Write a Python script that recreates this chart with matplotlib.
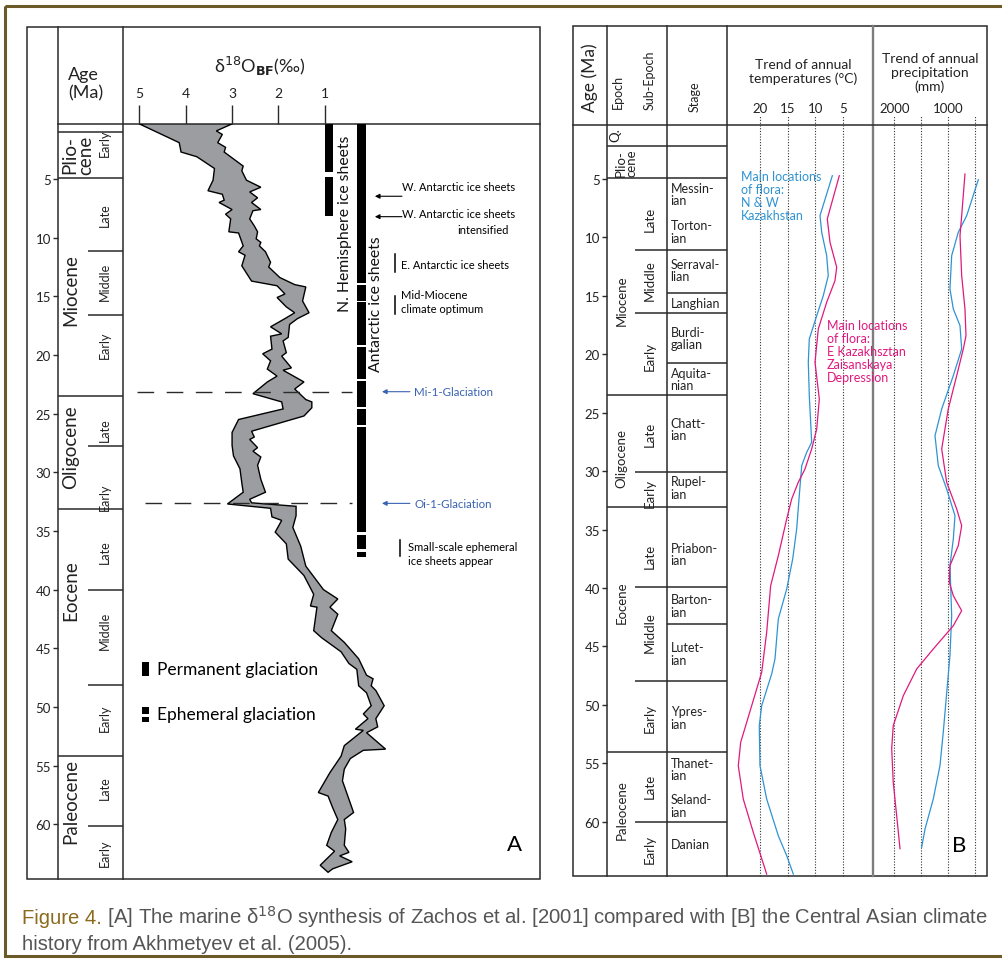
import numpy as np
import matplotlib
matplotlib.use("Agg")
import matplotlib.pyplot as plt
from matplotlib.patches import Rectangle

plt.rcParams['font.family'] = ['Lato', 'DejaVu Sans']
plt.rcParams['mathtext.fontset'] = 'dejavusans'

W, H = 1003, 962

# ---------------- panel A : benthic d18O band (Zachos et al. 2001) ----------------
# heavy (left) edge of the band
a_left_age = [0.3, 1.9, 2.7, 3.1, 4.1, 5.1, 6.0, 6.3, 6.8, 7.0, 7.6, 8.0, 8.4, 9.5, 9.6,
              10.7, 11.2, 11.5, 12.4, 13.7, 14.1, 14.8, 15.1, 15.9, 16.4, 16.9, 17.6, 18.2,
              18.4, 19.5, 19.9, 20.5, 21.2, 21.8, 22.3, 23.3, 24.0, 24.6, 25.5, 26.6, 27.7,
              28.6, 29.7, 30.9, 31.7, 32.7, 33.07, 33.8, 34.1, 35.1, 36.1, 37.4, 38.8, 40.4,
              41.4, 41.5, 43.5, 44.1, 45.3, 46.3, 46.8, 48.2, 48.8, 49.9, 50.6, 51.0, 51.9,
              52.0, 53.3, 54.2, 55.6, 57.3, 57.6, 58.6, 59.6, 60.7, 61.8, 62.3, 63.5, 64.1]
a_left_d18o = [5.0, 4.14, 4.10, 3.76, 3.38, 3.41, 3.52, 3.21, 3.17, 3.28, 3.0, 3.14, 3.03, 3.07, 2.86,
               2.76, 2.86, 2.72, 2.79, 2.58, 2.03, 1.86, 2.03, 1.83, 1.65, 1.86, 2.17, 1.93,
               2.17, 2.14, 2.34, 2.17, 2.24, 2.03, 2.24, 2.55, 1.93, 1.90, 2.86, 3.0, 3.0,
               2.97, 2.83, 2.79, 2.76, 3.10, 2.17, 2.14, 1.93, 2.07, 1.83, 1.79, 1.45, 1.24,
               1.31, 1.17, 1.24, 1.07, 0.65, 0.48, 0.31, 0.27, 0.10, 0.0, 0.17, 0.07, 0.34,
               0.17, 0.58, 0.65, 0.89, 1.14, 0.93, 0.83, 0.72, 0.86, 0.96, 0.79, 1.10, 0.93]
# light (right) edge of the band
a_right_age = [0.3, 0.9, 1.2, 1.9, 2.3, 2.7, 3.9, 4.3, 5.1, 5.7, 6.1, 6.6, 7.0, 7.6, 7.7, 8.4,
               9.0, 9.5, 10.1, 10.4, 10.7, 11.2, 12.1, 12.5, 13.4, 14.0, 14.2, 15.4, 16.4, 16.9,
               17.4, 18.5, 18.8, 19.8, 20.1, 21.1, 21.3, 22.3, 22.9, 23.8, 24.0, 24.5, 25.2,
               26.5, 27.0, 27.2, 27.9, 28.2, 28.7, 29.4, 30.6, 31.7, 32.3, 32.6, 32.9, 33.7,
               34.7, 36.3, 38.0, 40.0, 40.8, 41.5, 42.1, 43.5, 44.5, 45.9, 47.3, 47.6, 48.2,
               48.6, 49.9, 51.0, 51.7, 52.2, 53.6, 53.7, 54.4, 55.3, 56.3, 59.0, 59.6, 60.4,
               61.8, 62.4, 62.7, 63.2, 63.8, 64.1]
a_right_d18o = [3.0, 3.34, 3.21, 3.31, 3.14, 3.17, 2.76, 2.79, 2.69, 2.38, 2.62, 2.45, 2.58, 2.38, 2.55, 2.62,
                2.52, 2.45, 2.48, 2.38, 2.41, 2.28, 2.17, 2.21, 1.97, 1.65, 1.41, 1.48, 1.34, 1.59,
                1.76, 1.79, 1.90, 1.83, 1.93, 1.72, 1.90, 1.45, 1.65, 1.41, 1.28, 1.28, 1.45,
                2.58, 2.52, 2.62, 2.45, 2.55, 2.38, 2.45, 2.38, 2.28, 2.62, 2.58, 1.62, 1.62,
                1.69, 1.52, 1.41, 1.03, 0.72, 0.89, 0.72, 0.86, 0.58, 0.27, 0.10, -0.04, 0.0,
                -0.10, -0.28, -0.10, -0.14, 0.10, -0.31, 0.17, 0.45, 0.58, 0.62, 0.38, 0.58, 0.55,
                0.58, 0.48, 0.68, 0.41, 0.83, 0.93]

d18o_ticks = [5, 4, 3, 2, 1]
age_ticks = list(range(5, 65, 5))

epochA_lines = [0.99, 4.91, 23.5, 33.1, 54.2]
subA_lines = [11.13, 16.59, 27.76, 40.03, 48.13, 60.15]
epochA_names = ['Plio-\ncene', 'Miocene', 'Oligocene', 'Eocene', 'Paleocene']
epochA_mid = [2.9, 14.4, 27.8, 40.0, 58.0]
subA_names = ['Early', 'Late', 'Middle', 'Early', 'Late', 'Early', 'Late', 'Middle', 'Early', 'Late', 'Early']
subA_mid = [1.85, 8.0, 13.7, 19.1, 26.3, 32.0, 36.7, 43.4, 50.9, 56.8, 62.4]

nh_ice = [(0.31, 4.37), (4.80, 8.12)]
ant_ice = [(0.31, 13.86), (14.01, 15.37), (15.51, 19.15), (19.34, 22.05), (22.24, 24.46),
           (24.60, 25.94), (26.16, 35.12), (35.32, 36.54), (36.79, 37.25)]
glaciations = ['Mi-1-Glaciation', 'Oi-1-Glaciation']
glac_age = [23.13, 32.65]

# ---------------- panel B : Central Asian climate (Akhmetyev et al. 2005) ----------------
epochB_lines = [2.15, 4.94, 23.48, 33.03, 54.01]
subB_lines = [11.07, 16.49, 30.05, 39.94, 47.93, 60.0]
stageB_lines = [14.78, 20.77, 43.08]
epochB_names = ['Q.', 'Plio-\ncene', 'Miocene', 'Oligocene', 'Eocene', 'Paleocene']
epochB_mid = [1.15, 3.6, 15.3, 28.8, 41.2, 58.9]
subB_names = ['Late', 'Middle', 'Early', 'Late', 'Early', 'Late', 'Middle', 'Early', 'Late', 'Early']
subB_mid = [8.4, 13.6, 20.1, 26.8, 31.8, 37.2, 43.7, 51.1, 56.9, 62.3]
stages = ['Messin-\nian', 'Torton-\nian', 'Serraval-\nlian', 'Langhian', 'Burdi-\ngalian',
          'Aquita-\nnian', 'Chatt-\nian', 'Rupel-\nian', 'Priabon-\nian', 'Barton-\nian',
          'Lutet-\nian', 'Ypres-\nian', 'Thanet-\nian', 'Seland-\nian', 'Danian']
stage_mid = [6.3, 9.5, 12.8, 15.6, 18.6, 22.1, 26.4, 31.4, 37.1, 41.5, 45.6, 51.1, 55.5, 58.6, 61.9]

temp_ticks = [20, 15, 10, 5]
precip_ticks = [2000, 1500, 1000, 500]
precip_labels = ['2000', '', '1000', '']

# blue: N & W Kazakhstan, magenta: E Kazakhstan / Zaisan depression
temp_nw_age = [4.72, 8.14, 9.56, 11.56, 13.27, 14.98, 16.70, 18.69, 20.68, 23.54, 27.53, 28.39, 29.53,
               32.38, 34.95, 37.52, 40.08, 42.65, 46.07, 47.36, 50.07, 51.78, 55.21, 58.06, 61.2, 62.91, 64.48]
temp_nw = [6.93, 9.16, 8.85, 7.95, 7.66, 8.56, 9.75, 11.09, 11.27, 11.09, 10.66, 11.56, 12.46,
           12.95, 13.37, 14.09, 15.17, 16.69, 17.29, 17.89, 19.69, 20.13, 20.0, 18.79, 16.69, 15.17, 13.98]
temp_e_age = [4.72, 8.42, 10.42, 12.55, 13.7, 15.55, 17.83, 20.68, 23.83, 26.4, 28.1, 29.82, 30.95,
              32.38, 34.09, 37.24, 39.8, 43.79, 47.21, 50.07, 53.21, 55.21, 58.06, 60.91, 64.48]
temp_e = [5.67, 7.84, 7.35, 6.14, 6.45, 7.95, 9.46, 10.06, 9.28, 9.75, 10.66, 11.87, 13.08,
          14.27, 15.17, 16.69, 18.07, 18.79, 19.69, 21.5, 23.49, 23.92, 23.02, 21.21, 18.79]
prec_nw_age = [5.06, 8.14, 9.56, 11.56, 14.41, 16.12, 17.55, 19.55, 21.83, 24.68, 26.97, 29.53, 31.53,
               33.81, 35.81, 38.09, 42.37, 45.79, 52.35, 55.21, 58.06, 60.63, 62.19]
prec_nw = [444, 659, 815, 937, 969, 907, 783, 752, 907, 1122, 1246, 1185, 1030,
           876, 907, 969, 937, 969, 1093, 1154, 1278, 1431, 1493]
prec_e_age = [4.57, 8.14, 9.85, 13.27, 16.12, 18.41, 19.55, 21.83, 24.68, 28.1, 30.95, 33.24, 34.67,
              36.38, 38.09, 39.51, 40.66, 41.94, 43.23, 45.22, 46.93, 49.22, 51.78, 53.75, 56.63, 59.48, 62.31]
prec_e = [691, 752, 783, 752, 691, 672, 722, 844, 1000, 1122, 1030, 844, 752,
          815, 969, 981, 907, 752, 907, 1278, 1585, 1833, 2019, 2048, 2019, 1956, 1894]

LC = '#2a2a2a'
BLUE = '#2f93d3'
MAG = '#e0197d'
GLAC = '#3a62b3'

fig = plt.figure(figsize=(W / 100, H / 100), dpi=100)


def px_axes(x0, y0, x1, y1):
    ax = fig.add_axes([x0 / W, 1 - y1 / H, (x1 - x0) / W, (y1 - y0) / H])
    ax.set_facecolor('none')
    for s in ax.spines.values():
        s.set_visible(False)
    return ax


# background layer in pixel units: frames, column rules, headers, caption
bg = fig.add_axes([0, 0, 1, 1])
bg.set_xlim(0, W)
bg.set_ylim(H, 0)
bg.axis('off')
bg.add_patch(Rectangle((5, 7), 1010, 950, fill=False, ec='#6b5a28', lw=2.2))

bg.add_patch(Rectangle((27, 28), 513, 852, fill=False, ec=LC, lw=1.1))
for x in (58, 123):
    bg.plot([x, x], [28, 880], color=LC, lw=1.1)
bg.plot([58, 540], [125, 125], color=LC, lw=1.1)
bg.text(68, 84, 'Age\n(Ma)', ha='left', va='center', fontsize=13, linespacing=1.15, color='#222')
bg.text(260, 66, r'δ$^{18}$O$_{\bf BF}$(‰)', ha='center', va='center', fontsize=13, color='#222')

bg.add_patch(Rectangle((573, 27), 414, 850, fill=False, ec=LC, lw=1.1))
for x in (607, 667, 727):
    bg.plot([x, x], [27, 877], color=LC, lw=1.1)
bg.plot([873, 873], [27, 877], color='#7d7d7d', lw=1.7)
bg.plot([573, 987], [126, 126], color=LC, lw=1.1)
bg.text(590, 78, 'Age (Ma)', rotation=90, ha='center', va='center', fontsize=12.5, color='#222')
bg.text(618, 92, 'Epoch', rotation=90, ha='center', va='center', fontsize=9, color='#222')
bg.text(650, 80, 'Sub-Epoch', rotation=90, ha='center', va='center', fontsize=9, color='#222')
bg.text(695, 97, 'Stage', rotation=90, ha='center', va='center', fontsize=9, color='#222')
bg.text(803, 72, 'Trend of annual\ntemperatures (°C)', ha='center', va='center', fontsize=10,
        linespacing=1.15, color='#222')
bg.text(930, 73, 'Trend of annual\nprecipitation\n(mm)', ha='center', va='center', fontsize=10,
        linespacing=1.15, color='#222')

# ---------------- panel A axes ----------------
A_AGE = (64.67, 0.31)
axE = px_axes(58, 125, 123, 880)
axE.set_xlim(0, 1)
axE.set_ylim(*A_AGE)
axE.set_xticks([])
axE.set_yticks(age_ticks)
axE.tick_params(axis='y', length=3.5, width=1, pad=1.5, labelsize=9.5, color=LC, labelcolor='#222')
axE.hlines(epochA_lines, 0, 1, color=LC, lw=1.1)
axE.hlines(subA_lines, 0.46, 1, color=LC, lw=1.1)
for name, mid in zip(epochA_names, epochA_mid):
    xx = 0.3 if '\n' in name else 0.2
    axE.text(xx, mid, name, rotation=90, ha='center', va='center', fontsize=13.5,
             linespacing=0.95, color='#222')
for name, mid in zip(subA_names, subA_mid):
    axE.text(0.72, mid, name, rotation=90, ha='center', va='center', fontsize=9, color='#222')

axA = px_axes(123, 125, 540, 880)
axA.set_xlim(5.352, -3.64)
axA.set_ylim(*A_AGE)
axA.xaxis.tick_top()
axA.set_xticks(d18o_ticks)
axA.set_xticklabels([str(t) for t in d18o_ticks])
axA.set_yticks([])
axA.tick_params(axis='x', direction='out', length=14, width=1, pad=4, labelsize=10,
                color=LC, labelcolor='#222')

band_x = np.r_[a_left_d18o, a_right_d18o[::-1]]
band_y = np.r_[a_left_age, a_right_age[::-1]]
axA.fill(band_x, band_y, facecolor='#9c9da0', edgecolor='black', lw=1.0, zorder=2)

ty = axA.get_yaxis_transform()
for a, x0 in zip(glac_age, [0.034, 0.053]):
    axA.plot([x0, 0.549], [a, a], transform=ty, ls=(0, (12, 9)), color=LC, lw=1.0, zorder=3)
for a0, a1 in nh_ice:
    axA.add_patch(Rectangle((0.484, a0), 0.02, a1 - a0, transform=ty, color='black', lw=0))
for a0, a1 in ant_ice:
    axA.add_patch(Rectangle((0.561, a0), 0.022, a1 - a0, transform=ty, color='black', lw=0))
axA.text(0.532, 8.7, 'N. Hemisphere ice sheets', transform=ty, rotation=90, ha='center',
         va='center', fontsize=11.3, color='#111')
axA.text(0.607, 15.6, 'Antarctic ice sheets', transform=ty, rotation=90, ha='center',
         va='center', fontsize=11.3, color='#111')

arrow_k = dict(arrowstyle='-|>', color='black', lw=0.8, mutation_scale=7, shrinkA=0, shrinkB=0)
axA.text(0.669, 5.65, 'W. Antarctic ice sheets', transform=ty, ha='left', va='center', fontsize=8)
axA.annotate('', xy=(0.604, 6.47), xytext=(0.669, 6.47), xycoords=ty, arrowprops=arrow_k)
axA.text(0.669, 7.98, 'W. Antarctic ice sheets', transform=ty, ha='left', va='center', fontsize=8)
axA.text(0.926, 9.34, 'intensified', transform=ty, ha='right', va='center', fontsize=8)
axA.annotate('', xy=(0.604, 8.21), xytext=(0.669, 8.21), xycoords=ty, arrowprops=arrow_k)
axA.plot([0.652, 0.652], [11.39, 12.95], transform=ty, color='black', lw=1.1)
axA.text(0.667, 12.3, 'E. Antarctic ice sheets', transform=ty, ha='left', va='center', fontsize=8)
axA.plot([0.652, 0.652], [14.94, 16.5], transform=ty, color='black', lw=1.1)
axA.text(0.667, 15.44, 'Mid-Miocene\nclimate optimum', transform=ty, ha='left', va='center',
         fontsize=8, linespacing=1.3)
axA.plot([0.664, 0.664], [35.75, 37.16], transform=ty, color='black', lw=1.1)
axA.text(0.683, 36.9, 'Small-scale ephemeral\nice sheets appear', transform=ty, ha='left',
         va='center', fontsize=8, linespacing=1.3)

glac_arrow = dict(arrow_k, color=GLAC)
for name, a in zip(glaciations, glac_age):
    axA.annotate('', xy=(0.621, a), xytext=(0.688, a), xycoords=ty, arrowprops=glac_arrow)
    axA.text(0.698, a, name, transform=ty, ha='left', va='center', fontsize=8.3, color=GLAC)

axA.add_patch(Rectangle((0.045, 46.15), 0.018, 1.25, transform=ty, color='black', lw=0))
axA.text(0.082, 46.77, 'Permanent glaciation', transform=ty, ha='left', va='center', fontsize=12.5)
axA.add_patch(Rectangle((0.045, 50.03), 0.018, 0.57, transform=ty, color='black', lw=0))
axA.add_patch(Rectangle((0.045, 50.85), 0.018, 0.46, transform=ty, color='black', lw=0))
axA.text(0.082, 50.6, 'Ephemeral glaciation', transform=ty, ha='left', va='center', fontsize=12.5)
axA.text(0.94, 61.7, 'A', transform=ty, ha='center', va='center', fontsize=16)

# ---------------- panel B axes ----------------
B_AGE = (64.62, 0.38)
axC = px_axes(607, 126, 727, 876.7)
axC.set_xlim(0, 1)
axC.set_ylim(*B_AGE)
axC.set_xticks([])
axC.set_yticks(age_ticks)
axC.tick_params(axis='y', length=3.5, width=1, pad=1.5, labelsize=9.5, color=LC, labelcolor='#222')
axC.hlines(epochB_lines, 0, 1, color=LC, lw=1.1)
axC.hlines(subB_lines, 0.233, 1, color=LC, lw=1.1)
axC.hlines(stageB_lines, 0.5, 1, color=LC, lw=1.1)
for name, mid in zip(epochB_names, epochB_mid):
    xx = 0.16 if '\n' in name else (0.07 if name == 'Q.' else 0.122)
    axC.text(xx, mid, name, rotation=90, ha='center', va='center', fontsize=9.5,
             linespacing=0.95, color='#222')
for name, mid in zip(subB_names, subB_mid):
    axC.text(0.358, mid, name, rotation=90, ha='center', va='center', fontsize=9.5, color='#222')
for name, mid in zip(stages, stage_mid):
    axC.text(0.53, mid, name, ha='left', va='center', fontsize=9, linespacing=1.05, color='#222')

axT = px_axes(727, 126, 873, 876.7)
axT.set_xlim(25.96, -0.42)
axT.set_ylim(*B_AGE)
axT.xaxis.tick_top()
axT.set_xticks(temp_ticks)
axT.set_xticklabels([str(t) for t in temp_ticks])
axT.set_yticks([])
axT.tick_params(axis='x', length=0, pad=8, labelsize=9.5, labelcolor='#222')
axT.vlines(temp_ticks, B_AGE[0], -0.39, color='#333', lw=0.8, ls=(0, (1, 1.5)), clip_on=False)
axT.plot(temp_nw, temp_nw_age, color=BLUE, lw=0.9)
axT.plot(temp_e, temp_e_age, color=MAG, lw=0.9)
tyT = axT.get_yaxis_transform()
axT.text(0.094, 4.2, 'Main locations\nof flora:\nN & W\nKazakhstan', transform=tyT, ha='left',
         va='top', fontsize=9, linespacing=1.1, color=BLUE)
axT.text(0.683, 16.95, 'Main locations\nof flora:\nE Kazakhsztan\nZaisanskaya\nDepression',
         transform=tyT, ha='left', va='top', fontsize=9, linespacing=1.1, color=MAG, clip_on=False)

axP = px_axes(873, 126, 987, 876.7)
axP.set_xlim(2394, 283)
axP.set_ylim(*B_AGE)
axP.xaxis.tick_top()
axP.set_xticks(precip_ticks)
axP.set_xticklabels(precip_labels)
axP.set_yticks([])
axP.tick_params(axis='x', length=0, pad=8, labelsize=9.5, labelcolor='#222')
axP.vlines(precip_ticks, B_AGE[0], -0.39, color='#333', lw=0.8, ls=(0, (1, 1.5)), clip_on=False)
axP.plot(prec_nw, prec_nw_age, color=BLUE, lw=0.9)
axP.plot(prec_e, prec_e_age, color=MAG, lw=0.9)
axP.text(0.754, 62.0, 'B', transform=axP.get_yaxis_transform(), ha='center', va='center', fontsize=16)

# ---------------- caption ----------------
CAP = dict(family=['Liberation Sans', 'DejaVu Sans'], fontsize=14.6, va='baseline')
t1 = bg.text(22, 924, 'Figure 4.', color='#8a6a1c', **CAP)
fig.canvas.draw()
bb = t1.get_window_extent()
bg.text(bb.x1, 924, ' [A] The marine δ$^{18}$O synthesis of Zachos et al. [2001] compared with '
        '[B] the Central Asian climate', color='#555555', **CAP)
bg.text(22, 950, 'history from Akhmetyev et al. (2005).', color='#555555', **CAP)

fig.savefig('out.png', dpi=100)
